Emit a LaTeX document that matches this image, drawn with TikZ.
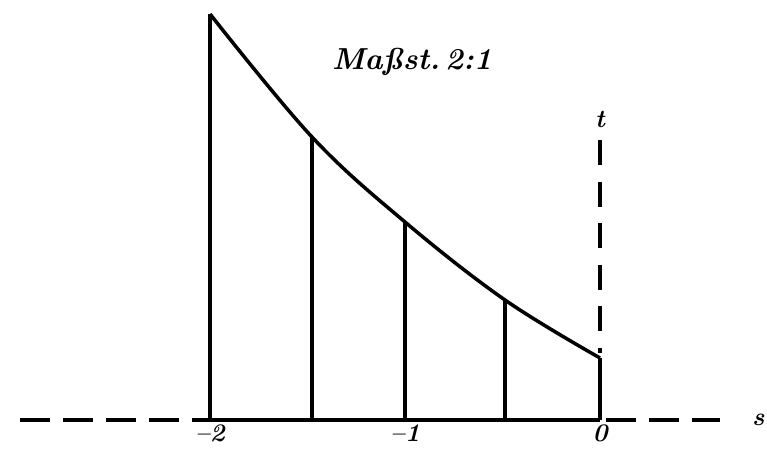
\documentclass[tikz,border=0pt]{standalone}
\usepackage{tikz}
\usetikzlibrary{positioning, calc}
\tikzstyle{bound} = [line width=2pt, line join=round]
\tikzstyle{axisdash} = [line width=2pt, dash pattern=on 0.6cm off 0.26cm]
\tikzstyle{ticklabel} = [font=\Large\bfseries\itshape, inner sep=1pt]

\begin{document}
\begin{tikzpicture}
    \useasboundingbox (-12, -0.6) rectangle (3.34, 8.4);
    % heights of the curve at s = -2, -1.5, -1, -0.5, 0 (1 unit = 3.9cm)
    \coordinate (p0) at (-7.8, 8.12);
    \coordinate (p1) at (-5.76, 5.66);
    \coordinate (p2) at (-3.9, 3.96);
    \coordinate (p3) at (-1.9, 2.4);
    \coordinate (p4) at (0, 1.24);
    \coordinate (q0) at (-7.8, 0);
    \coordinate (q1) at (-5.76, 0);
    \coordinate (q2) at (-3.9, 0);
    \coordinate (q3) at (-1.9, 0);
    \coordinate (q4) at (0, 0);

    \draw[bound] plot[smooth, tension=0.6] coordinates {(p0) (p1) (p2) (p3) (p4)};
    \draw[bound] (q4) -- (q0) -- (p0);
    \foreach \i in {1,2,3,4}
        \draw[bound] (q\i) -- (p\i);

    % axes
    \coordinate (sleft) at (-11.6, 0);
    \coordinate (sright) at (2.4, 0);
    \coordinate (ttop) at (0, 5.6);
    \draw[axisdash] (sleft) -- (q0);
    \draw[axisdash] ($(q4)+(0.12,0)$) -- (sright);
    \draw[axisdash, dash pattern=on 0.5cm off 0.33cm] (ttop) -- ($(p4)+(0,0.1)$);

    \node[ticklabel, right=0.6 of sright] (slabel) {s};
    \node[ticklabel, above=0.2 of ttop] (tlabel) {t};
    \node[ticklabel, below=0.05 of q0] (m2) {--2};
    \node[ticklabel, below=0.05 of q2] (m1) {--1};
    \node[ticklabel, below=0.05 of q4] (zero) {0};
    \node[font=\LARGE\bfseries\itshape] at (-3.76, 7.16) (scale) {Maßst.\,2:1};
\end{tikzpicture}
\end{document}
